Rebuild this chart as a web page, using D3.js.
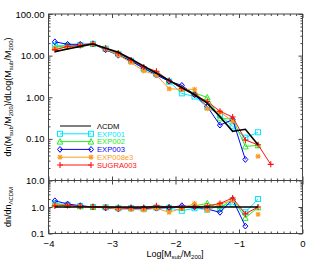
<!DOCTYPE html>
<html><head><meta charset="utf-8">
<script src="https://cdn.jsdelivr.net/npm/d3@7"></script>
<style>
html,body{margin:0;padding:0;background:#fff;}
svg{display:block;font-family:"Liberation Sans",Arial,sans-serif;}
</style></head>
<body>
<svg id="c" width="319" height="266"></svg>
<script>
// ---- data ----
const logMass = [-3.9,-3.7,-3.5,-3.3,-3.1,-2.9,-2.7,-2.5,-2.3,-2.1,-1.9,-1.7,-1.5,-1.3,-1.1,-0.9,-0.7,-0.5];
const lcdm     = [12.5,14.4,16.7,19.0,15.0,12.1,8.3,5.6,3.78,2.55,1.72,1.15,0.72,0.34,0.152,0.17,0.072,null];
const exp001   = [17.3,17.3,18.0,19.0,14.6,10.9,7.5,4.8,3.6,2.37,1.24,1.04,0.58,0.37,0.20,0.107,0.144,null];
const exp002   = [16.0,17.3,18.0,19.4,15.0,11.5,7.7,5.0,3.78,2.5,1.62,1.27,0.99,0.31,0.30,0.066,0.070,null];
const exp003   = [21.5,18.7,18.7,19.0,13.8,10.2,7.4,5.0,3.4,2.42,1.93,1.15,0.60,0.214,0.29,0.032,null,null];
const exp008e3 = [14.75,16.1,17.5,19.0,14.25,10.3,6.8,4.3,3.4,1.6,1.55,1.55,0.53,0.44,0.266,null,0.038,null];
const sugra003 = [13.75,16.6,17.5,19.4,15.0,11.5,7.9,5.3,4.23,2.5,1.63,1.15,0.79,0.46,0.334,0.094,0.072,0.0244];
// ratios to LCDM (lower panel)
const rLcdm     = [1,1,1,1,1,1,1,1,1,1,1,1,1,1,1,1,1,null];
const rExp001   = [1.38,1.2,1.08,1.0,0.97,0.9,0.9,0.85,0.95,0.93,0.72,0.9,0.8,1.1,1.3,0.63,2.0,null];
const rExp002   = [1.28,1.2,1.08,1.02,1.0,0.95,0.93,0.9,1.0,0.98,0.94,1.1,1.38,0.9,2.0,0.39,0.97,null];
const rExp003   = [1.72,1.3,1.12,1.0,0.92,0.84,0.89,0.9,0.9,0.95,1.12,1.0,0.84,0.63,1.9,0.19,null,null];
const rExp008e3 = [1.18,1.12,1.05,1.0,0.95,0.85,0.82,0.77,0.9,0.63,0.9,1.35,0.74,1.3,1.75,null,0.53,null];
const rSugra003 = [1.1,1.15,1.05,1.02,1.0,0.95,0.95,0.95,1.12,0.98,0.95,1.0,1.1,1.35,2.2,0.55,1.0,null];

const seriesNames = ["ΛCDM","EXP001","EXP002","EXP003","EXP008e3","SUGRA003"];
const mainVals  = [lcdm,exp001,exp002,exp003,exp008e3,sugra003];
const ratioVals = [rLcdm,rExp001,rExp002,rExp003,rExp008e3,rSugra003];
const colors  = ["#000000","#00e8ff","#22ee22","#0000ff","#ff9922","#ff1111"];
const symbols = ["none","square","triangle","diamond","asterisk","plus"];
const widths  = [1.6,1,1,1,1,1];

const mainTicks  = [0.1,1,10,100];
const ratioTicks = [0.1,1,10];
const xTicks     = [-4,-3,-2,-1,0];

// ---- layout ----
const svg = d3.select("#c");
const L=48.5, R=302.5, T=14, MB=180.5, RB=233.5;
const x  = d3.scaleLinear([-4,0],[L,R]);
const yM = d3.scaleLog([0.01,100],[MB,T]);
const yR = d3.scaleLog([0.1,10],[RB,MB]);

function minorLog(lo,hi){const a=[];for(let e=Math.log10(lo);e<Math.log10(hi);e++){for(let k=2;k<=9;k++)a.push(k*Math.pow(10,e));}return a;}
const xMinor = d3.range(-40,1).map(d=>d/10).filter(d=>Math.abs(d-Math.round(d))>1e-6);
const axCol="#444";

function panel(y,top,bot,majors,fmt,labelX){
  svg.append("rect").attr("x",L).attr("y",top).attr("width",R-L).attr("height",bot-top)
    .attr("fill","none").attr("stroke",axCol).attr("stroke-width",1);
  const dom=y.domain();
  const mk=(axis,tr,size,vals,f)=>{const g=svg.append("g").attr("transform",tr)
      .call(axis.tickValues(vals).tickSize(size).tickFormat(f||""));
    g.select(".domain").remove(); g.selectAll("line").attr("stroke",axCol);
    g.selectAll("text").attr("font-size",9.5).attr("fill","#000"); return g;};
  mk(d3.axisLeft(y),`translate(${L},0)`,-4,majors,fmt).selectAll("text").attr("dx",-1);
  mk(d3.axisLeft(y),`translate(${L},0)`,-2,minorLog(dom[0],dom[1]));
  mk(d3.axisRight(y),`translate(${R},0)`,-4,majors);
  mk(d3.axisRight(y),`translate(${R},0)`,-2,minorLog(dom[0],dom[1]));
  mk(d3.axisTop(x),`translate(0,${top})`,-4,xTicks);
  mk(d3.axisTop(x),`translate(0,${top})`,-2,xMinor);
  const gb=mk(d3.axisBottom(x),`translate(0,${bot})`,-4,xTicks,labelX?(d=>d===0?"0":"\u2212"+Math.abs(d)):null);
  mk(d3.axisBottom(x),`translate(0,${bot})`,-2,xMinor);
  if(labelX) gb.selectAll("text").attr("dy","1.1em");
}
panel(yM,T,MB,mainTicks,d3.format(".2f"),false);
panel(yR,MB,RB,ratioTicks,d3.format(".1f"),true);

function drawSym(g,type,cx,cy,col){
  const s=2.5;
  if(type==="square") g.append("rect").attr("x",cx-s).attr("y",cy-s).attr("width",2*s).attr("height",2*s).attr("fill","none").attr("stroke",col);
  else if(type==="triangle") g.append("path").attr("d",`M${cx},${cy-s-0.5}L${cx+s+0.3},${cy+s}L${cx-s-0.3},${cy+s}Z`).attr("fill","none").attr("stroke",col);
  else if(type==="diamond") g.append("path").attr("d",`M${cx},${cy-s-0.4}L${cx+s},${cy}L${cx},${cy+s+0.4}L${cx-s},${cy}Z`).attr("fill","none").attr("stroke",col);
  else if(type==="plus") g.append("path").attr("d",`M${cx-s-0.5},${cy}H${cx+s+0.5}M${cx},${cy-s-0.5}V${cy+s+0.5}`).attr("stroke",col).attr("stroke-width",1.1);
  else if(type==="asterisk") g.append("path").attr("d",`M${cx-s},${cy}H${cx+s}M${cx},${cy-s}V${cy+s}M${cx-s*0.8},${cy-s*0.8}L${cx+s*0.8},${cy+s*0.8}M${cx-s*0.8},${cy+s*0.8}L${cx+s*0.8},${cy-s*0.8}`).attr("stroke",col).attr("stroke-width",1.1);
}

function drawSeries(vals,y,i){
  const pts=logMass.map((m,k)=>({m,v:vals[k]}));
  const g=svg.append("g");
  const line=d3.line().defined(d=>d.v!=null&&d.v>0).x(d=>x(d.m)).y(d=>y(d.v));
  g.append("path").attr("d",line(pts)).attr("fill","none").attr("stroke",colors[i]).attr("stroke-width",widths[i]);
  if(symbols[i]!=="none") pts.filter(d=>d.v!=null&&d.v>0).forEach(d=>drawSym(g,symbols[i],x(d.m),y(d.v),colors[i]));
}
const order=[1,2,3,4,5,0];
order.forEach(i=>drawSeries(mainVals[i],yM,i));
order.forEach(i=>drawSeries(ratioVals[i],yR,i));

// legend
const legY=[126,133.8,141.6,149.4,157.2,165];
seriesNames.forEach((n,i)=>{
  const g=svg.append("g");
  g.append("line").attr("x1",60).attr("x2",91).attr("y1",legY[i]).attr("y2",legY[i]).attr("stroke",colors[i]).attr("stroke-width",1);
  if(symbols[i]!=="none"){drawSym(g,symbols[i],60,legY[i],colors[i]);drawSym(g,symbols[i],91,legY[i],colors[i]);}
  g.append("text").attr("x",97).attr("y",legY[i]+2.8).attr("font-size",7.6).attr("fill",i===0?"#000":colors[i]).text(n);
});

// titles
const yt=svg.append("text").attr("transform","translate(11,97) rotate(-90)").attr("text-anchor","middle").attr("font-size",9);
yt.append("tspan").text("dn(M");
yt.append("tspan").attr("font-size",6).attr("dy",2).text("sub");
yt.append("tspan").attr("dy",-2).text("/M");
yt.append("tspan").attr("font-size",6).attr("dy",2).text("200");
yt.append("tspan").attr("dy",-2).text(")/dLog(M");
yt.append("tspan").attr("font-size",6).attr("dy",2).text("sub");
yt.append("tspan").attr("dy",-2).text("/M");
yt.append("tspan").attr("font-size",6).attr("dy",2).text("200");
yt.append("tspan").attr("dy",-2).text(")");

const rt=svg.append("text").attr("transform","translate(11,207) rotate(-90)").attr("text-anchor","middle").attr("font-size",9);
rt.append("tspan").text("dn/dn");
rt.append("tspan").attr("font-size",6).attr("dy",2).text("ΛCDM");

const xt=svg.append("text").attr("x",175).attr("y",257).attr("text-anchor","middle").attr("font-size",9);
xt.append("tspan").text("Log[M");
xt.append("tspan").attr("font-size",6).attr("dy",2).text("sub");
xt.append("tspan").attr("dy",-2).text("/M");
xt.append("tspan").attr("font-size",6).attr("dy",2).text("200");
xt.append("tspan").attr("dy",-2).text("]");
</script>
</body></html>
